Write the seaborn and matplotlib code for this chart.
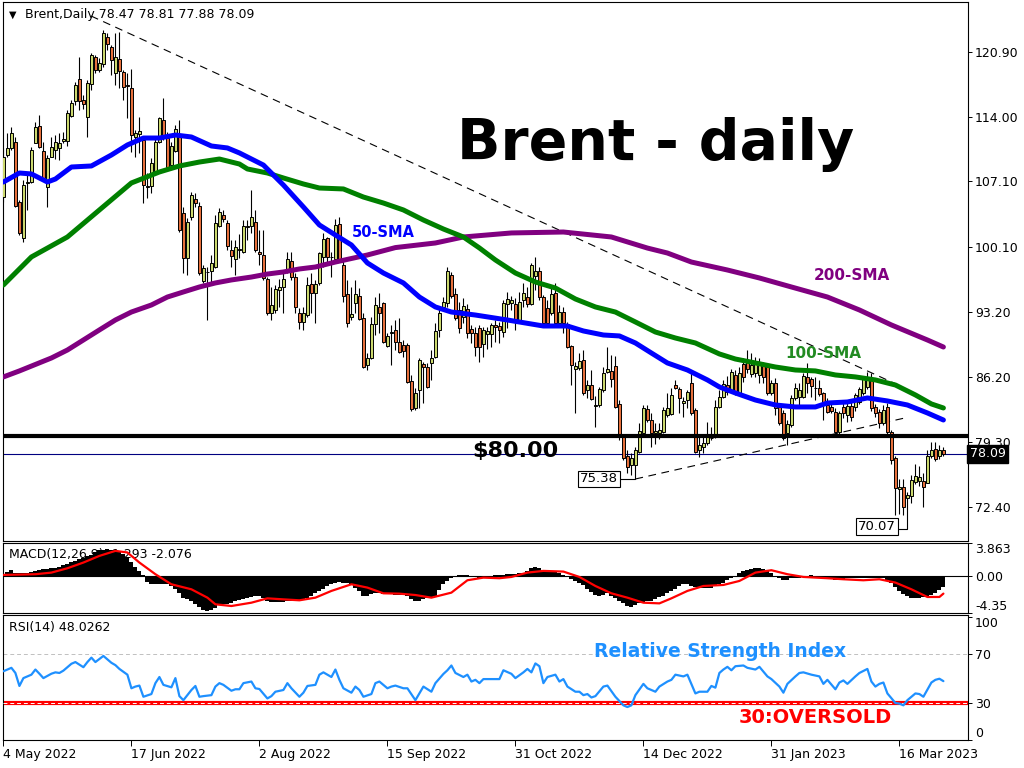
import numpy as np
import matplotlib
matplotlib.use('Agg')
import matplotlib.pyplot as plt
import matplotlib.transforms as mtrans
import seaborn as sns

# Daily Brent candles, 4 May 2022 onwards.
opens = [
  105.48, 109.92, 110.63, 111.27, 104.88, 101.04, 106.90, 107.08, 111.24, 113.01,
  110.38, 106.55, 109.74, 110.45, 110.70, 111.38, 111.45, 114.11, 115.71, 117.99,
  115.78, 114.00, 117.49, 120.33, 118.98, 119.58, 122.46, 121.47, 118.63, 120.12,
  118.73, 117.38, 117.03, 111.87, 112.16, 111.52, 106.65, 106.62, 108.14, 111.34,
  113.65, 111.70, 108.85, 110.38, 112.05, 103.77, 98.91, 103.28, 105.19, 104.48,
  96.53, 97.50, 97.59, 97.95, 102.35, 103.53, 102.64, 99.79, 98.80, 99.80,
  99.62, 102.21, 102.35, 102.81, 99.60, 99.26, 96.66, 93.11, 93.40, 95.53,
  95.88, 97.48, 98.66, 96.88, 93.11, 92.15, 92.86, 96.13, 95.17, 96.24,
  99.08, 101.04, 99.00, 98.80, 102.57, 98.20, 95.10, 92.62, 94.18, 94.89,
  92.51, 87.54, 88.25, 91.91, 93.68, 94.11, 89.56, 90.98, 91.27, 90.02,
  89.67, 89.67, 85.83, 82.92, 84.87, 87.64, 87.36, 87.71, 88.35, 91.27,
  93.75, 94.18, 97.13, 95.10, 93.40, 92.68, 93.47, 91.34, 90.91, 91.44,
  89.77, 90.84, 90.84, 91.80, 91.69, 91.09, 94.04, 94.10, 94.04, 92.33,
  94.46, 94.82, 94.04, 97.02, 97.59, 94.75, 93.57, 93.04, 95.17, 92.05,
  93.22, 91.90, 89.56, 87.07, 87.18, 88.07, 84.87, 85.40, 83.20, 83.27,
  84.87, 86.79, 86.90, 87.43, 83.38, 79.90, 77.84, 76.88, 76.88, 78.30,
  80.32, 82.81, 81.67, 80.25, 80.25, 80.43, 82.20, 82.31, 85.40, 84.94,
  83.45, 83.81, 85.65, 82.74, 78.48, 78.76, 79.19, 79.72, 79.83, 83.10,
  84.16, 85.40, 84.70, 86.47, 84.60, 87.65, 88.00, 86.58, 86.65, 86.47,
  87.43, 87.36, 84.52, 85.58, 83.03, 82.40, 80.26, 81.14, 84.00, 84.16,
  84.16, 86.30, 86.00, 85.05, 85.05, 84.52, 83.27, 83.10, 82.56, 80.43,
  83.10, 82.20, 83.17, 83.10, 83.63, 84.52, 85.23, 85.94, 83.10, 82.56,
  81.32, 83.03, 80.43, 77.59, 74.29, 74.57, 73.33, 73.58, 75.10, 75.20,
  75.17, 75.00, 77.84, 78.55, 77.84, 78.47]
highs = [
  110.63, 112.23, 112.94, 111.87, 105.12, 107.25, 107.79, 110.81, 113.47, 114.18,
  111.34, 109.92, 111.87, 112.05, 112.23, 112.41, 114.72, 115.78, 117.74, 120.40,
  116.32, 117.91, 120.76, 120.58, 120.22, 123.24, 122.89, 121.64, 122.89, 123.07,
  118.98, 118.63, 119.05, 112.59, 114.00, 111.70, 107.97, 109.56, 111.70, 114.00,
  115.96, 112.41, 111.34, 113.12, 113.65, 104.41, 103.17, 106.01, 105.83, 104.95,
  98.20, 98.02, 99.26, 103.53, 104.24, 104.06, 102.99, 100.86, 100.86, 101.50,
  102.99, 102.99, 106.19, 104.06, 101.93, 101.93, 96.95, 95.88, 96.06, 96.66,
  97.48, 99.62, 99.62, 97.31, 93.57, 93.75, 96.95, 97.31, 96.59, 99.62,
  101.57, 101.22, 99.62, 103.06, 103.35, 98.73, 96.59, 95.88, 96.59, 95.70,
  93.04, 88.78, 92.68, 94.82, 95.17, 94.29, 90.91, 91.80, 92.33, 92.51,
  90.20, 89.85, 86.47, 85.05, 88.25, 87.89, 87.71, 89.13, 91.98, 93.75,
  94.82, 98.02, 97.48, 95.70, 94.29, 94.64, 94.00, 91.80, 91.60, 91.80,
  91.62, 91.60, 91.98, 92.30, 92.15, 94.50, 95.35, 94.90, 94.64, 95.35,
  96.24, 95.88, 98.37, 99.08, 98.02, 95.00, 94.46, 95.88, 96.24, 93.93,
  93.75, 92.15, 89.67, 87.89, 88.78, 89.13, 85.94, 87.00, 84.20, 85.23,
  87.36, 89.49, 88.60, 88.50, 83.81, 80.08, 78.48, 78.12, 78.83, 81.39,
  83.27, 83.27, 82.40, 81.32, 81.39, 83.10, 84.52, 85.05, 85.94, 85.23,
  84.16, 84.87, 86.65, 82.92, 79.90, 79.90, 81.50, 80.96, 83.81, 84.87,
  85.94, 86.40, 87.07, 87.00, 87.30, 88.25, 89.13, 88.78, 88.40, 88.25,
  87.90, 87.72, 85.94, 86.10, 83.27, 82.74, 81.67, 84.34, 85.58, 85.58,
  86.65, 87.72, 86.30, 86.30, 85.94, 84.70, 83.98, 83.63, 82.92, 82.60,
  83.60, 83.45, 83.60, 84.60, 85.20, 86.40, 86.80, 86.65, 83.40, 82.80,
  83.27, 83.45, 80.61, 77.80, 75.40, 75.40, 74.00, 75.80, 77.00, 76.80,
  76.00, 78.50, 79.30, 79.30, 79.00, 78.81]
lows = [
  104.95, 109.74, 110.45, 104.41, 101.39, 100.68, 104.06, 106.90, 111.16, 110.63,
  107.25, 104.34, 109.67, 109.46, 109.39, 111.16, 110.88, 114.00, 115.25, 114.72,
  114.79, 111.87, 116.85, 118.63, 118.80, 119.34, 121.11, 118.45, 117.38, 117.03,
  115.78, 113.83, 110.28, 109.74, 110.10, 104.77, 105.30, 105.83, 107.97, 111.16,
  111.52, 108.50, 108.68, 110.28, 101.75, 97.31, 97.13, 102.99, 104.41, 97.13,
  96.24, 92.33, 96.42, 97.84, 102.28, 102.81, 99.79, 98.02, 97.13, 98.90,
  99.44, 100.86, 101.57, 99.62, 98.20, 96.59, 92.86, 92.33, 93.04, 93.75,
  93.11, 97.31, 96.59, 93.11, 91.34, 91.27, 92.68, 93.04, 92.04, 96.06,
  98.02, 98.37, 96.95, 98.55, 98.55, 94.29, 91.62, 92.33, 93.04, 92.33,
  87.18, 87.00, 88.14, 90.73, 90.91, 89.92, 89.42, 87.54, 89.13, 88.78,
  88.35, 85.58, 82.67, 82.74, 82.92, 83.45, 85.05, 85.94, 88.25, 90.56,
  93.57, 93.75, 94.64, 92.33, 90.91, 91.98, 90.38, 89.92, 88.50, 87.89,
  88.42, 89.20, 89.49, 90.00, 89.85, 90.50, 91.44, 93.40, 91.27, 92.15,
  93.75, 93.75, 93.93, 95.53, 94.46, 91.80, 91.62, 92.86, 91.80, 91.62,
  90.91, 89.31, 85.40, 82.40, 87.00, 84.34, 83.98, 83.81, 80.96, 83.10,
  84.70, 86.65, 85.23, 82.92, 79.54, 77.41, 75.99, 75.80, 75.38, 78.12,
  80.25, 81.50, 78.83, 79.12, 79.60, 80.32, 82.03, 82.20, 84.94, 82.38,
  82.03, 82.92, 82.20, 78.12, 77.77, 78.12, 79.00, 79.54, 79.72, 82.92,
  83.98, 84.30, 84.52, 84.34, 84.30, 85.76, 86.65, 86.30, 86.20, 85.60,
  85.60, 84.34, 84.34, 82.20, 81.14, 79.54, 79.00, 80.96, 83.81, 83.10,
  83.98, 84.52, 84.16, 83.81, 84.25, 81.67, 82.40, 82.40, 80.26, 80.10,
  81.90, 81.50, 81.60, 82.60, 83.40, 84.30, 85.00, 82.60, 81.96, 80.80,
  81.10, 80.20, 77.00, 71.55, 71.60, 71.55, 70.07, 72.80, 74.80, 74.60,
  72.44, 74.90, 77.60, 77.30, 77.50, 77.88]
closes = [
  109.74, 110.63, 112.23, 104.52, 101.57, 106.72, 107.00, 110.45, 112.94, 110.81,
  107.43, 109.56, 110.81, 111.31, 111.16, 111.63, 114.36, 115.43, 117.38, 115.71,
  115.32, 117.56, 120.58, 118.98, 119.76, 122.89, 121.72, 120.05, 120.33, 118.91,
  117.20, 117.30, 112.05, 112.23, 112.51, 106.72, 106.55, 109.10, 111.34, 113.83,
  111.70, 108.68, 110.88, 112.66, 101.93, 98.91, 102.81, 105.66, 104.84, 97.31,
  97.84, 97.45, 98.37, 102.64, 103.81, 103.06, 100.22, 99.19, 100.15, 99.90,
  102.35, 102.40, 103.35, 99.79, 99.40, 96.77, 93.04, 93.93, 95.60, 95.88,
  96.66, 98.80, 96.88, 93.68, 92.15, 93.11, 96.06, 95.25, 96.13, 99.44,
  100.93, 99.01, 99.05, 102.46, 98.80, 94.89, 91.98, 92.97, 95.10, 92.47,
  87.36, 88.25, 91.91, 93.93, 93.04, 90.02, 90.63, 91.00, 90.02, 88.96,
  89.06, 85.76, 82.81, 84.52, 88.07, 87.29, 85.23, 88.25, 91.20, 93.11,
  94.29, 97.59, 94.89, 92.51, 91.44, 93.82, 90.91, 90.91, 89.49, 89.49,
  91.27, 91.20, 91.80, 91.55, 91.27, 94.11, 94.54, 94.50, 92.33, 94.29,
  95.25, 94.04, 98.20, 97.59, 94.75, 91.98, 91.98, 95.10, 91.98, 93.22,
  91.98, 89.49, 87.54, 87.43, 88.00, 84.52, 85.40, 83.88, 83.25, 84.94,
  86.72, 87.07, 86.00, 83.10, 79.83, 77.59, 76.70, 77.59, 78.48, 80.54,
  82.92, 81.67, 80.32, 80.54, 80.61, 82.74, 82.92, 84.34, 85.05, 83.98,
  83.73, 84.70, 82.38, 78.30, 79.00, 79.19, 79.90, 79.75, 83.10, 84.16,
  85.51, 84.70, 86.83, 84.60, 86.72, 86.30, 87.07, 87.54, 87.60, 87.72,
  86.30, 84.52, 85.58, 82.92, 81.32, 79.72, 81.25, 83.98, 85.05, 84.87,
  86.36, 85.58, 85.30, 85.10, 84.45, 83.45, 82.56, 82.67, 80.43, 82.38,
  82.38, 83.17, 81.96, 84.34, 84.94, 86.00, 86.12, 82.92, 82.38, 81.32,
  82.74, 80.43, 77.41, 74.39, 74.57, 72.44, 73.68, 75.28, 75.70, 75.64,
  74.57, 77.84, 78.48, 77.48, 78.48, 78.09]

# Moving averages, read at roughly every 4-5 bars: (bar, price).
sma50_bar = [0, 4, 7, 11, 13, 17, 22, 27, 31, 35, 39, 43, 47, 52, 56, 59, 65, 70, 75, 79,
             83, 87, 91, 95, 100, 104, 108, 112, 118, 126, 135, 141, 145, 150, 154, 158,
             162, 166, 171, 176, 179, 183, 188, 193, 198, 203, 206, 211, 216, 221, 226, 231, 235]
sma50_val = [107.04, 108.0, 107.9, 107.04, 107.36, 108.64, 108.75, 109.92, 110.99, 111.73,
             111.73, 112.05, 111.84, 110.88, 110.67, 110.14, 108.85, 106.72, 104.38, 102.46,
             101.39, 100.33, 98.41, 97.34, 96.28, 94.78, 93.72, 93.18, 92.86, 92.33, 91.69,
             91.69, 91.16, 90.73, 90.63, 89.88, 88.81, 87.75, 87.0, 85.94, 85.19, 84.55,
             83.80, 83.27, 83.06, 83.06, 83.48, 83.59, 84.02, 83.70, 83.27, 82.42, 81.67]
sma100_bar = [0, 7, 16, 24, 32, 39, 44, 49, 54, 59, 61, 66, 70, 75, 79, 85, 90, 95, 100, 105,
              110, 115, 119, 123, 128, 133, 138, 143, 148, 153, 158, 163, 168, 173, 179, 183,
              188, 193, 198, 203, 208, 213, 218, 223, 228, 232, 235]
sma100_val = [96.06, 99.05, 101.18, 104.06, 106.94, 108.11, 108.75, 109.17, 109.49, 108.96,
              108.43, 108.0, 107.47, 106.83, 106.4, 106.3, 105.44, 104.8, 104.06, 102.99,
              102.03, 101.18, 100.01, 98.73, 97.34, 96.38, 95.74, 94.57, 93.72, 93.18, 92.12,
              91.05, 90.41, 89.88, 88.71, 88.17, 87.75, 87.32, 87.0, 86.9, 86.47, 86.26,
              85.94, 85.4, 84.34, 83.38, 82.95]
sma200_bar = [0, 4, 12, 16, 20, 24, 28, 32, 37, 41, 45, 49, 53, 57, 62, 66, 70, 74, 78, 83,
              91, 98, 108, 115, 127, 140, 152, 161, 166, 172, 181, 189, 197, 206, 214, 222, 231, 235]
sma200_val = [86.26, 86.9, 88.28, 89.13, 90.2, 91.27, 92.33, 93.18, 93.93, 94.78, 95.32,
              95.85, 96.28, 96.6, 96.91, 97.23, 97.45, 97.77, 97.98, 98.51, 99.26, 100.05,
              100.54, 101.18, 101.61, 101.71, 101.18, 100.0, 99.47, 98.51, 97.66, 96.81,
              95.85, 94.78, 93.4, 91.8, 90.2, 89.45]

# MACD(12,26,9) main value per bar and the signal line.
macd_main = [
  0.2, 0.5, 0.67, 0.4, 0.31, 0.35, 0.4, 0.5, 0.55, 0.65,
  0.78, 0.85, 0.9, 0.98, 1.1, 1.3, 1.45, 1.6, 1.8, 1.96,
  2.1, 2.3, 2.5, 2.8, 3.0, 3.1, 3.14, 3.1, 3.0, 2.86,
  2.6, 2.2, 1.6, 1.1, 0.6, 0.05, -0.75, -0.9, -0.98, -0.95,
  -0.9, -0.95, -1.2, -1.5, -2.0, -2.55, -2.7, -2.9, -3.3, -3.7,
  -3.95, -4.06, -3.95, -3.8, -3.4, -3.3, -3.25, -3.15, -3.0, -2.85,
  -2.7, -2.55, -2.5, -2.4, -2.35, -2.6, -2.9, -3.06, -3.06, -3.06,
  -3.06, -3.0, -2.95, -2.9, -2.86, -2.7, -2.55, -2.35, -2.0, -1.8,
  -1.57, -1.2, -0.9, -0.78, -0.75, -0.78, -0.8, -1.0, -1.37, -1.8,
  -2.3, -2.35, -2.1, -1.96, -2.0, -2.1, -2.15, -2.16, -2.2, -2.22,
  -2.24, -2.4, -2.7, -2.94, -2.9, -2.75, -2.63, -2.5, -2.35, -1.6,
  -0.98, -0.6, -0.3, -0.15, 0.05, 0.12, 0.12, 0.0, -0.15, -0.2,
  -0.1, -0.05, 0.0, 0.05, 0.1, 0.15, 0.2, 0.2, 0.25, 0.3,
  0.39, 0.6, 0.9, 1.06, 0.9, 0.67, 0.6, 0.5, 0.45, 0.39,
  0.15, -0.12, -0.4, -0.6, -0.78, -1.1, -1.57, -1.9, -2.2, -2.35,
  -2.2, -2.06, -2.3, -2.6, -2.94, -3.2, -3.5, -3.65, -3.4, -3.14,
  -3.05, -3.0, -2.94, -2.7, -2.5, -2.35, -2.0, -1.77, -1.5, -1.2,
  -1.0, -0.98, -1.2, -1.35, -1.37, -1.37, -1.37, -1.37, -1.1, -0.9,
  -0.78, -0.5, -0.2, 0.0, 0.3, 0.59, 0.75, 0.85, 0.95, 0.98,
  0.8, 0.6, 0.39, 0.0, -0.3, -0.51, -0.45, -0.3, -0.2, -0.2,
  -0.1, 0.0, 0.08, 0.0, -0.1, -0.2, -0.3, -0.4, -0.51, -0.45,
  -0.35, -0.3, -0.27, -0.25, -0.2, -0.2, -0.2, -0.2, -0.2, -0.2,
  -0.3, -0.5, -0.78, -1.3, -1.8, -2.16, -2.4, -2.63, -2.6, -2.55,
  -2.45, -2.35, -2.24, -2.0, -1.6, -1.29]
signal_bar = [0, 8, 12, 16, 20, 24, 28, 31, 34, 38, 42, 47, 51, 53, 57, 62, 66, 70, 74, 78,
              82, 87, 91, 95, 99, 103, 107, 112, 116, 120, 124, 127, 131, 135, 140, 144, 148,
              152, 156, 160, 164, 167, 171, 175, 180, 184, 188, 192, 196, 200, 206, 210, 215,
              219, 223, 227, 231, 234, 235]
signal_val = [0.12, 0.2, 0.39, 0.9, 1.57, 2.35, 2.94, 2.75, 1.57, 0.2, -0.98, -1.57, -2.55,
              -3.33, -3.53, -3.14, -2.63, -2.75, -2.86, -2.55, -1.76, -0.98, -1.37, -2.04,
              -2.08, -2.24, -2.55, -1.96, -0.51, -0.2, -0.27, -0.12, 0.39, 0.59, 0.51, -0.12,
              -1.18, -2.04, -2.55, -3.14, -3.22, -2.63, -1.76, -1.18, -1.06, -0.59, 0.39, 0.67,
              0.2, -0.12, -0.27, -0.39, -0.51, -0.39, -0.78, -1.57, -2.47, -2.47, -2.076]

# RSI(14): (bar, value).
rsi_bar = [0, 2, 3, 4, 5, 7, 8, 9, 10, 12, 13, 14, 15, 17, 18, 20, 21, 22, 23, 25, 27, 28, 29,
           31, 32, 33, 34, 35, 37, 38, 39, 40, 42, 43, 44, 45, 47, 48, 49, 50, 52, 53, 54, 55,
           57, 58, 59, 60, 62, 63, 64, 66, 67, 68, 70, 71, 72, 74, 75, 76, 78, 79, 80, 82, 83,
           84, 85, 87, 88, 89, 90, 92, 93, 94, 96, 97, 98, 100, 101, 103, 104, 105, 107, 108,
           110, 111, 112, 113, 115, 116, 117, 118, 119, 120, 122, 124, 125, 127, 128, 130, 131,
           132, 133, 134, 135, 136, 138, 139, 140, 141, 143, 144, 145, 146, 147, 148, 150, 151,
           153, 155, 156, 157, 158, 160, 161, 163, 164, 166, 167, 168, 170, 171, 173, 174, 176,
           177, 178, 179, 180, 181, 182, 183, 185, 186, 188, 189, 191, 192, 194, 195, 196, 198,
           199, 200, 202, 204, 205, 206, 208, 209, 210, 211, 213, 214, 216, 217, 218, 219, 220,
           221, 223, 224, 225, 226, 228, 229, 230, 232, 233, 234, 235]
rsi_val = [56.1, 58.9, 54.7, 44.1, 50.5, 53.3, 57.5, 54.1, 50.5, 54.1, 55.2, 54.7, 56.6, 62.2,
           63.6, 59.4, 63.6, 67.2, 63.6, 68.6, 63.0, 61.1, 58.0, 53.3, 42.2, 43.6, 44.4, 35.3,
           37.5, 46.4, 51.4, 45.0, 43.0, 50.5, 35.8, 32.5, 40.8, 44.1, 35.3, 35.8, 36.6, 43.6,
           46.4, 45.0, 40.2, 41.4, 41.4, 46.4, 47.7, 42.2, 41.6, 33.9, 35.8, 39.4, 40.8, 46.4,
           42.2, 35.3, 38.6, 44.1, 45.0, 53.3, 55.2, 51.4, 57.5, 49.1, 42.2, 38.6, 43.6, 40.8,
           35.3, 37.5, 46.4, 47.7, 42.2, 43.6, 44.4, 42.2, 42.2, 32.5, 38.0, 43.6, 39.4, 46.4,
           53.9, 56.9, 60.8, 54.7, 51.4, 53.3, 47.7, 49.1, 46.4, 49.7, 49.7, 49.7, 56.9, 54.0,
           50.5, 55.2, 58.0, 55.2, 62.5, 60.2, 46.4, 51.4, 53.3, 47.7, 49.7, 43.6, 39.4, 39.4,
           36.6, 37.5, 34.7, 35.8, 43.6, 44.4, 35.3, 28.3, 26.9, 28.3, 36.6, 45.8, 42.2, 39.4,
           43.6, 47.7, 49.1, 53.3, 51.9, 53.3, 38.0, 39.4, 39.4, 44.1, 42.7, 54.7, 57.5, 59.7,
           56.9, 60.2, 60.8, 58.9, 57.5, 59.7, 51.9, 49.7, 43.6, 38.6, 45.8, 51.9, 54.7, 55.2,
           53.3, 51.9, 45.8, 49.1, 41.4, 46.9, 48.6, 45.8, 51.9, 54.7, 58.0, 47.7, 43.6, 45.8,
           46.9, 38.0, 30.2, 29.7, 28.3, 32.5, 38.0, 37.5, 35.3, 46.9, 49.1, 50.0, 48.03]

# Drawn trend lines: (bar, price) end points.
upper_trend_bar = [21.9, 224.2]
upper_trend_val = [124.74, 85.3]
lower_trend_bar = [158, 225]
lower_trend_val = [75.38, 81.85]

date_bars = [0, 32, 64, 96, 128, 160, 192, 224]
date_labels = ['4 May 2022', '17 Jun 2022', '2 Aug 2022', '15 Sep 2022',
               '31 Oct 2022', '14 Dec 2022', '31 Jan 2023', '16 Mar 2023']
price_ticks = [120.90, 114.00, 107.10, 100.10, 93.20, 86.20, 79.30, 72.40]

assert len(opens) == len(highs) == len(lows) == len(closes) == len(macd_main)
assert len(rsi_bar) == len(rsi_val) and len(signal_bar) == len(signal_val)

BULL = '#cbd86e'
BEAR = '#e6703c'

sns.set_style('white')
plt.rcParams['font.family'] = ['DejaVu Sans']
plt.rcParams['text.color'] = 'black'
plt.rcParams['xtick.color'] = 'black'
plt.rcParams['ytick.color'] = 'black'

W, H = 1024, 768
fig = plt.figure(figsize=(W / 100, H / 100), dpi=100)

def panel(top, bottom, **kw):
  return fig.add_axes([3 / W, 1 - bottom / H, 965 / W, (bottom - top) / H], **kw)

ax = panel(2, 541)
axm = panel(543, 613, sharex=ax)
axr = panel(615, 740, sharex=ax)

bars = np.arange(len(closes))
o, hi, lo, c = (np.array(a) for a in (opens, highs, lows, closes))

# Candles.
ax.vlines(bars, lo, hi, color='black', linewidth=0.8, zorder=3)
bodyLo = np.minimum(o, c)
bodyH = np.maximum(np.abs(c - o), 0.05)
ax.bar(bars, bodyH, bottom=bodyLo, width=0.62, color=np.where(c >= o, BULL, BEAR),
       edgecolor='black', linewidth=0.7, zorder=4)

# Moving averages.
sns.lineplot(x=sma200_bar, y=sma200_val, ax=ax, color='#800080', linewidth=3.6, zorder=5)
sns.lineplot(x=sma100_bar, y=sma100_val, ax=ax, color='#008000', linewidth=3.6, zorder=5)
sns.lineplot(x=sma50_bar, y=sma50_val, ax=ax, color='#0000ff', linewidth=3.6, zorder=6)

# Levels and trend lines.
ax.axhline(80.0, color='black', linewidth=3.0, zorder=7)
ax.axhline(closes[-1], color='#000080', linewidth=0.8, zorder=2)
ax.plot(upper_trend_bar, upper_trend_val, color='black', linewidth=0.8, dashes=(7, 5), zorder=2)
ax.plot(lower_trend_bar, lower_trend_val, color='black', linewidth=0.8, dashes=(7, 5), zorder=2)

ax.set_xlim(-0.1, 241.15)
ax.set_ylim(68.77, 126.23)

# Labels on the price panel.
ax.text(163.1, 109.4, 'Brent - daily', fontsize=41, fontweight='bold', color='black',
        ha='center', va='baseline', zorder=8)
ax.text(127.9, 77.73, '$80.00', fontsize=16, fontweight='bold', color='black',
        ha='center', va='baseline', zorder=8)
ax.text(94.9, 101.18, '50-SMA', fontsize=10.5, fontweight='bold', color='#0000ff',
        ha='center', va='baseline', zorder=8)
ax.text(205.05, 88.28, '100-SMA', fontsize=11, fontweight='bold', color='#228b22',
        ha='center', va='baseline', zorder=8)
ax.text(212.05, 96.6, '200-SMA', fontsize=11, fontweight='bold', color='#800080',
        ha='center', va='baseline', zorder=8)

lowBox = dict(boxstyle='square,pad=0.15', fc='white', ec='black', lw=0.8)
low1 = int(np.argmin(lo[:200]))
low2 = int(np.argmin(lo))
ax.text(148.9, lo[low1], f'{lo[low1]:.2f}', fontsize=9.5, ha='center', va='center', bbox=lowBox, zorder=9)
ax.plot([154.2, low1], [lo[low1], lo[low1]], color='black', linewidth=0.8, zorder=3)
ax.text(218.3, lo[low2] + 0.2, f'{lo[low2]:.2f}', fontsize=9.5, ha='center', va='center', bbox=lowBox, zorder=9)
ax.plot([223.7, low2], [lo[low2], lo[low2]], color='black', linewidth=0.8, zorder=3)

ax.text(0.006, 0.976, '\u25bc', transform=ax.transAxes, fontsize=7, va='center')
ax.text(0.0225, 0.976, 'Brent,Daily 78.47 78.81 77.88 78.09', transform=ax.transAxes,
        fontsize=9, va='center')

ax.yaxis.tick_right()
ax.set_yticks(price_ticks)
ax.set_yticklabels([f'{t:.2f}' for t in price_ticks])
bt = mtrans.blended_transform_factory(ax.transAxes, ax.transData)
ax.text(1.002, closes[-1], f'{closes[-1]:.2f}', transform=bt, color='white', fontsize=9,
        ha='left', va='center', clip_on=False, zorder=10,
        bbox=dict(boxstyle='square,pad=0.2', fc='black', ec='black'))

# MACD panel.
axm.text(0.006, 0.83, 'MACD(12,26,9) -1.293 -2.076', transform=axm.transAxes, fontsize=9,
         va='center', zorder=1)
axm.bar(bars, macd_main, width=1.0, color='black', linewidth=0, zorder=2)
axm.axhline(0, color='black', linewidth=0.8, zorder=2)
sns.lineplot(x=signal_bar, y=signal_val, ax=axm, color='#ff0000', linewidth=1.6, zorder=3)
axm.set_ylim(-4.35, 3.863)
axm.yaxis.tick_right()
axm.set_yticks([3.863, 0, -4.35])
axm.set_yticklabels(['3.863', '0.00', '-4.35'])

# RSI panel.
axr.text(0.006, 0.896, 'RSI(14) 48.0262', transform=axr.transAxes, fontsize=9, va='center')
axr.axhline(70, color='#c0c0c0', linewidth=0.7, dashes=(4, 3))
axr.axhline(30, color='#ff0000', linewidth=3.0, zorder=2)
axr.axhline(30, color='white', linewidth=0.7, dashes=(4, 3), zorder=3)
sns.lineplot(x=rsi_bar, y=rsi_val, ax=axr, color='#1e90ff', linewidth=1.6, zorder=4)
axr.text(179.1, 67.8, 'Relative Strength Index', fontsize=13.5, fontweight='bold',
         color='#1e90ff', ha='center', va='baseline', zorder=5)
axr.text(202.9, 13.9, '30:OVERSOLD', fontsize=14, fontweight='bold', color='#ff0000',
         ha='center', va='baseline', zorder=5)
axr.set_ylim(0, 102)
axr.yaxis.tick_right()
axr.set_yticks([100, 70, 30, 0])
axr.set_yticklabels(['100', '70', '30', '0'])

for a in (ax, axm, axr):
  a.set_xlabel('')
  a.set_ylabel('')
  for s in a.spines.values():
    s.set_color('black')
    s.set_linewidth(0.8)
  a.tick_params(axis='y', which='both', right=True, left=False, length=3, width=0.7,
                labelsize=9, pad=2, colors='black')

for a in (ax, axm):
  a.tick_params(axis='x', bottom=False, labelbottom=False)

for a in (axm, axr):
  labels = a.get_yticklabels()
  labels[0].set_va('top')
  labels[-1].set_va('bottom')

axr.set_xticks(date_bars)
axr.set_xticklabels(date_labels)
axr.tick_params(axis='x', bottom=True, length=4, width=0.7, labelsize=9, pad=2, colors='black')
for lbl in axr.get_xticklabels():
  lbl.set_ha('left')

fig.savefig('out.png', dpi=100)
